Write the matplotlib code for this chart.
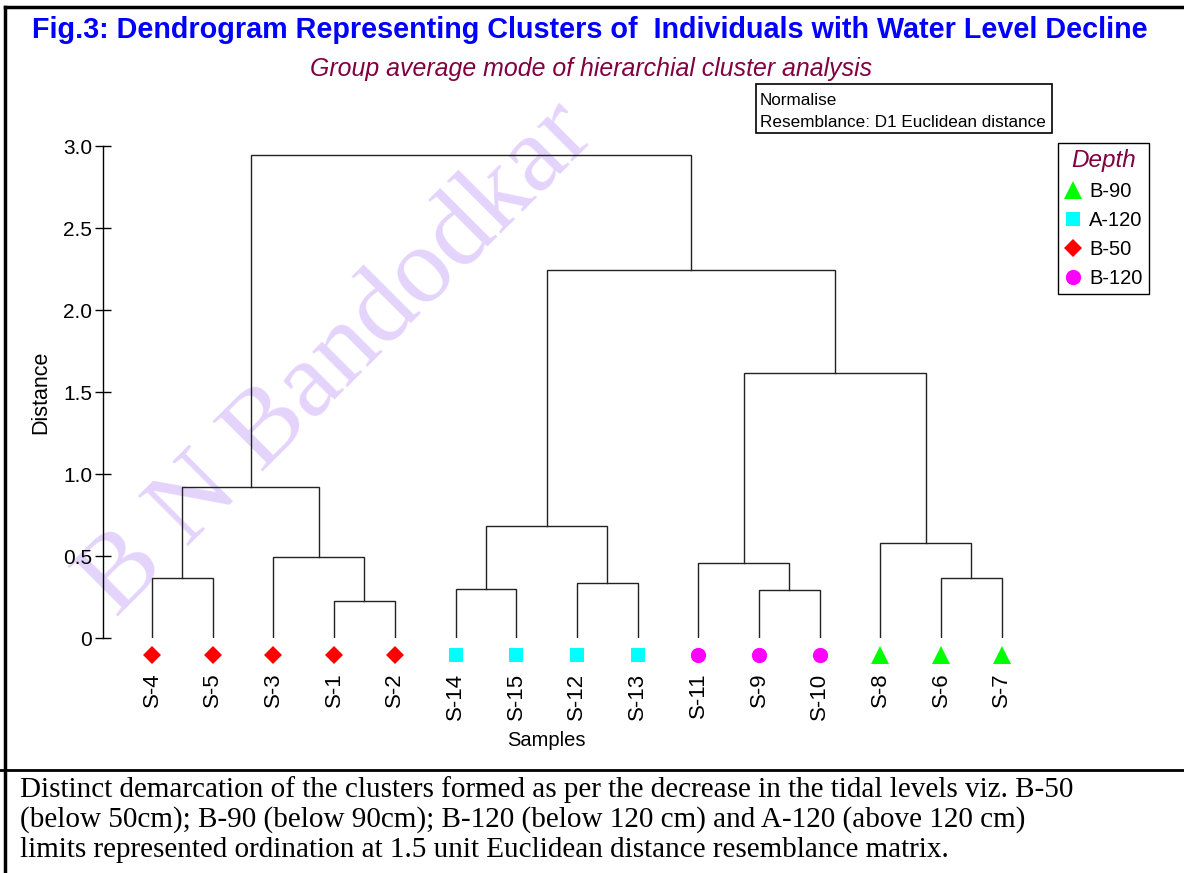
import matplotlib
matplotlib.use("Agg")
import matplotlib.pyplot as plt
from matplotlib.lines import Line2D
from matplotlib.patches import Rectangle

W, H, DPI = 1184, 873, 100

# --- data ---
samples = ["S-4", "S-5", "S-3", "S-1", "S-2", "S-14", "S-15", "S-12",
           "S-13", "S-11", "S-9", "S-10", "S-8", "S-6", "S-7"]
sample_depth = ["B-50"] * 5 + ["A-120"] * 4 + ["B-120"] * 3 + ["B-90"] * 3

# linkage rows: (left id, right id, distance); ids < 15 are leaves,
# id 15 + k is the cluster made by row k
linkage = [
    (0, 1, 0.365),
    (3, 4, 0.228),
    (2, 16, 0.495),
    (15, 17, 0.922),
    (5, 6, 0.296),
    (7, 8, 0.337),
    (19, 20, 0.682),
    (10, 11, 0.294),
    (9, 22, 0.458),
    (13, 14, 0.368),
    (12, 24, 0.580),
    (23, 25, 1.617),
    (21, 26, 2.245),
    (18, 27, 2.944),
]

y_ticks = [0, 0.5, 1.0, 1.5, 2.0, 2.5, 3.0]
y_tick_labels = ["0", "0.5", "1.0", "1.5", "2.0", "2.5", "3.0"]
legend_order = ["B-90", "A-120", "B-50", "B-120"]

title = "Fig.3: Dendrogram Representing Clusters of  Individuals with Water Level Decline"
subtitle = "Group average mode of hierarchial cluster analysis"
info_lines = ["Normalise", "Resemblance: D1 Euclidean distance"]
caption = [
    "Distinct demarcation of the clusters formed as per the decrease in the tidal levels viz. B-50",
    "(below 50cm); B-90 (below 90cm); B-120 (below 120 cm) and A-120 (above 120 cm)",
    "limits represented ordination at 1.5 unit Euclidean distance resemblance matrix.",
]
watermark = "B N Bandodkar"

# marker style per depth group
styles = {
    "B-90": ("^", "#00ff00", 12.5),
    "A-120": ("s", "#00ffff", 10.5),
    "B-50": ("D", "#ff0000", 9.5),
    "B-120": ("o", "#ff00ff", 11),
}
MAROON = "#800040"
MARKER_Y = -0.105

plt.rcParams["font.family"] = ["Liberation Sans", "DejaVu Sans"]


def fx(x):
    return x / W


def fy(y):
    return 1 - y / H


fig = plt.figure(figsize=(W / DPI, H / DPI), dpi=DPI)

# watermark, behind everything
fig.text(fx(338), fy(360), watermark, rotation=45, rotation_mode="anchor",
         ha="center", va="center", family="Liberation Serif", fontsize=78,
         color="#e4d4fb", zorder=-5)

ax = fig.add_axes([fx(103), fy(638), (1050 - 103) / W, (638 - 146) / H])
ax.patch.set_visible(False)
ax.set_xlim((103 - 152) / 60.7, (1050 - 152) / 60.7)
ax.set_ylim(0, 3.0)

# --- dendrogram links ---
n = len(samples)
pos = {i: (i, 0.0) for i in range(n)}
for k, (a, b, h) in enumerate(linkage):
    xa, ya = pos[a]
    xb, yb = pos[b]
    ax.plot([xa, xa, xb, xb], [ya, h, h, yb], color="#222222", lw=1.0,
            solid_joinstyle="miter")
    pos[n + k] = ((xa + xb) / 2, h)

# --- leaf markers ---
handles = []
for grp in legend_order:
    m, c, ms = styles[grp]
    idx = [i for i, d in enumerate(sample_depth) if d == grp]
    ax.plot(idx, [MARKER_Y] * len(idx), ls="none", marker=m, color=c,
            markersize=ms, markeredgewidth=0, clip_on=False)
    handles.append(Line2D([], [], ls="none", marker=m, color=c,
                          markersize=ms, markeredgewidth=0, label=grp))

ax.set_yticks(y_ticks, y_tick_labels)
ax.set_xticks(range(n), samples, rotation=90)
ax.tick_params(axis="y", direction="inout", length=11.5, width=1,
               labelsize=15, pad=2)
ax.tick_params(axis="x", length=0, pad=25, labelsize=16)
for s in ["top", "right", "bottom"]:
    ax.spines[s].set_visible(False)
ax.spines["left"].set_linewidth(1.0)

fig.text(fx(41), fy(392), "Distance", rotation=90, ha="center",
         va="center", fontsize=15.5)
fig.text(fx(546), fy(740), "Samples", ha="center", va="center", fontsize=14.5)

leg = ax.legend(handles=handles, title="Depth", loc="upper left",
                bbox_to_anchor=(fx(1058), fy(143)),
                bbox_transform=fig.transFigure, fontsize=14.5,
                title_fontsize=17.5, handlelength=0.9, handletextpad=0.35,
                labelspacing=0.5, borderpad=0.3, borderaxespad=0,
                frameon=True, fancybox=False, framealpha=1)
leg.get_frame().set_edgecolor("black")
leg.get_frame().set_linewidth(1.0)
leg.get_title().set_color(MAROON)
leg.get_title().set_style("italic")

# --- header texts ---
t_title = fig.text(fx(589.5), fy(38), title, ha="center", va="baseline",
                   color="#0000ff", weight="bold", fontsize=22)
t_sub = fig.text(fx(591.5), fy(76), subtitle, ha="center", va="baseline",
                 color=MAROON, style="italic", fontsize=17)

fig.add_artist(Rectangle((fx(756), fy(133)), (1052 - 756) / W,
                         (133 - 84) / H, transform=fig.transFigure,
                         fill=False, ec="black", lw=1.2))
t_info = [fig.text(fx(760), fy(y), s, ha="left", va="baseline", fontsize=11.5)
          for s, y in zip(info_lines, [105, 127])]

# --- frame and caption ---
for xs, ys, lw in [([5, 5], [7, H], 2.5), ([5, W], [7, 7], 2.5),
                   ([0, W], [770, 770], 2.0)]:
    fig.add_artist(Line2D([fx(x) for x in xs], [fy(y) for y in ys],
                          transform=fig.transFigure, color="black", lw=lw))

t_cap = [fig.text(fx(20), fy(y), s, ha="left", va="baseline",
                  family="Liberation Serif", fontsize=18)
         for s, y in zip(caption, [797, 827, 857])]

# scale a few texts so their widths match the reference
fig.canvas.draw()
r = fig.canvas.get_renderer()


def fit(txt, width_px):
    bb = txt.get_window_extent(r)
    return txt.get_fontsize() * width_px / bb.width


t_title.set_fontsize(fit(t_title, 1113))
t_sub.set_fontsize(fit(t_sub, 563))
size = fit(t_info[1], 286)
for t in t_info:
    t.set_fontsize(size)
size = fit(t_cap[0], 1058)
for t in t_cap:
    t.set_fontsize(size)

fig.savefig("out.png", dpi=DPI)
